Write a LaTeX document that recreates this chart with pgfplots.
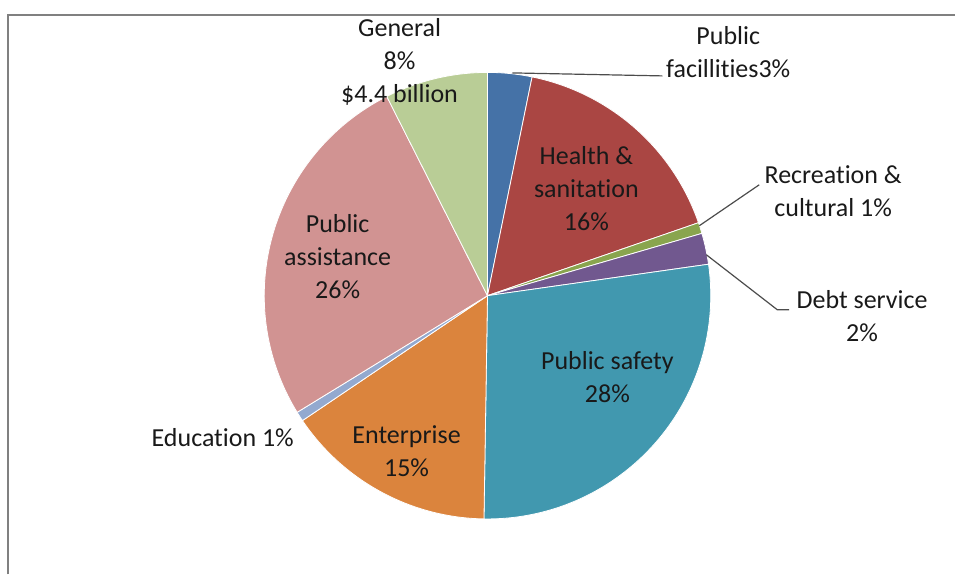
\documentclass[border=0pt]{standalone}
\usepackage{pgfplots}
\pgfplotsset{compat=1.18}
\usepackage{pgfplotstable}
\usepackage{fontspec}
\setmainfont{Carlito}[Ligatures=NoCommon]
\definecolor{slice0}{HTML}{4572A7}
\definecolor{slice1}{HTML}{AA4643}
\definecolor{slice2}{HTML}{89A54E}
\definecolor{slice3}{HTML}{71588F}
\definecolor{slice4}{HTML}{4198AF}
\definecolor{slice5}{HTML}{DB843D}
\definecolor{slice6}{HTML}{93A9CF}
\definecolor{slice7}{HTML}{D19392}
\definecolor{slice8}{HTML}{B9CD96}
% shares (percent), clockwise from 12 o'clock
\pgfplotstableread{
name share
PublicFacilities 3.2
HealthSanitation 16.5
RecreationCultural 0.8
DebtService 2.25
PublicSafety 27.5
Enterprise 15.3
Education 0.7
PublicAssistance 26.3
General 7.45
}\pietable
\begin{document}
\begin{tikzpicture}
\begin{axis}[
  scale only axis, width=478pt, height=287.5pt,
  xmin=0, xmax=956, ymin=0, ymax=575,
  hide axis, clip=false,
]
\path (axis cs:0,0) rectangle (axis cs:956,575);
\def\cum{0}
\pgfplotsforeachungrouped \i in {0,...,8}{%
  \pgfplotstablegetelem{\i}{share}\of\pietable
  \pgfmathsetmacro\aEnd{90-3.6*\cum}%
  \pgfmathsetmacro\newcum{\cum+\pgfplotsretval}%
  \let\cum\newcum
  \pgfmathsetmacro\aStart{90-3.6*\cum}%
  \edef\temp{\noexpand\addplot[fill=slice\i, draw=white, line width=0.4pt, domain=\aStart:\aEnd, samples=80, variable=\noexpand\t] ({488+223.5*cos(\noexpand\t)},{279+223.5*sin(\noexpand\t)}) -- (axis cs:488,279) -- cycle;}%
  \temp
}
% frame
\addplot[draw=gray, line width=1pt, no marks] coordinates {(8,0) (8,560) (956,560)};
% leader lines
\addplot[draw=black!70, line width=0.6pt, no marks] coordinates {(513,502) (663,499)};
\addplot[draw=black!70, line width=0.6pt, no marks] coordinates {(700,349) (760,390)};
\addplot[draw=black!70, line width=0.6pt, no marks] coordinates {(707,320) (778,265) (790,265)};
% labels
\begin{scope}[every node/.style={align=center, inner sep=0pt, font=\fontsize{13}{16.5}\selectfont, text=black!90}]
\node at (axis cs:400,513) {General\\8\%\\\$4.4 billion};
\node at (axis cs:729,523) {Public\\facillities3\%};
\node at (axis cs:587,386) {Health \&\\sanitation\\16\%};
\node at (axis cs:834,383.5) {Recreation \&\\cultural 1\%};
\node at (axis cs:863,259) {Debt service\\2\%};
\node at (axis cs:608,197.5) {Public safety\\28\%};
\node at (axis cs:407,123) {Enterprise\\15\%};
\node at (axis cs:223,137) {Education 1\%};
\node at (axis cs:338,318) {Public\\assistance\\26\%};
\end{scope}
\end{axis}
\end{tikzpicture}
\end{document}
